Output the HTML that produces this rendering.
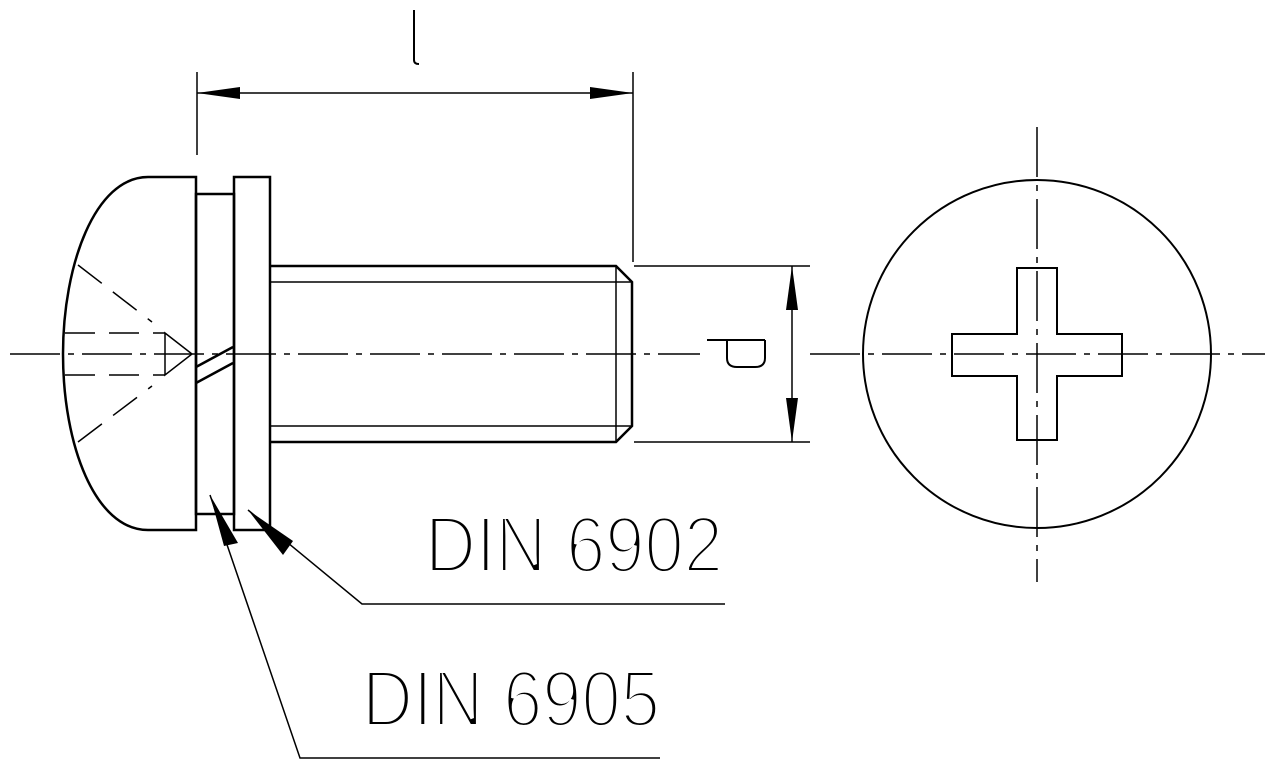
<!DOCTYPE html>
<html><head><style>html,body{margin:0;padding:0;background:#fff}svg{display:block}</style></head>
<body>
<svg width="1280" height="767" viewBox="0 0 1280 767" xmlns="http://www.w3.org/2000/svg">
<g fill="none" stroke="#000" stroke-width="2.5">
<!-- head -->
<path d="M196,177 L148,177 C95,177 63,265 63,354 C63,445 95,530 148,530 L196,530 Z"/>
<!-- lock washer -->
<rect x="196" y="194" width="38" height="320"/>
<!-- flat washer -->
<rect x="234" y="177" width="36" height="353"/>
<!-- shank -->
<path d="M270,266 L616,266 L632,282 L632,426 L616,442 L270,442"/>
<line x1="616" y1="266" x2="616" y2="442" stroke-width="1.5"/>
<line x1="270" y1="282" x2="632" y2="282" stroke-width="1.5"/>
<line x1="270" y1="426" x2="632" y2="426" stroke-width="1.5"/>
<!-- split -->
<line x1="196" y1="367" x2="233" y2="347"/>
<line x1="196" y1="383" x2="233" y2="363"/>
<!-- circle + cross -->
<circle cx="1037" cy="354" r="174" stroke-width="2"/>
<path d="M1017,268 H1057 V334 H1122 V376 H1057 V440 H1017 V376 H952 V334 H1017 Z" stroke-width="2"/>
</g>
<g fill="none" stroke="#000" stroke-width="1.5">
<!-- hidden lines in head -->
<line x1="78" y1="265" x2="152" y2="322" stroke-dasharray="30,14"/>
<line x1="78" y1="442" x2="152" y2="386" stroke-dasharray="30,14"/>
<line x1="65" y1="333" x2="165" y2="333" stroke-dasharray="30,14"/>
<line x1="65" y1="375" x2="165" y2="375" stroke-dasharray="30,14"/>
<path d="M165,333 L192,354 L165,375 Z"/>
<!-- center lines -->
<line x1="10" y1="354" x2="700" y2="354" stroke-dasharray="50,8,6,8"/>
<line x1="810" y1="354" x2="1265" y2="354" stroke-dasharray="50,8,6,8"/>
<line x1="1037" y1="127" x2="1037" y2="582" stroke-dasharray="50,8,6,8"/>
<!-- dimension l -->
<line x1="197" y1="72" x2="197" y2="155"/>
<line x1="633" y1="72" x2="633" y2="262"/>
<line x1="197" y1="93" x2="633" y2="93"/>
<!-- dimension d -->
<line x1="634" y1="266" x2="810" y2="266"/>
<line x1="634" y1="442" x2="810" y2="442"/>
<line x1="792" y1="266" x2="792" y2="442"/>
<!-- leaders -->
<polyline points="248,510 362,604 725,604"/>
<polyline points="210,495 300,758 660,758"/>
</g>
<g fill="#000">
<polygon points="197,93 240,87 240,99"/>
<polygon points="633,93 590,87 590,99"/>
<polygon points="792,266 786,310 798,310"/>
<polygon points="792,442 786,398 798,398"/>
<polygon points="248,510 293,541 283,555"/>
<polygon points="210,495 224,546 238,543"/>
</g>
<!-- l -->
<path d="M414,10 L414,60 Q414,64 419,64" fill="none" stroke="#000" stroke-width="2"/>
<!-- d rotated -->
<path d="M707,340 L765,340 M727,340 L727,358 Q727,367 737,367 L755,367 Q765,367 765,358 L765,340" fill="none" stroke="#000" stroke-width="2"/>
<g font-family="'Liberation Sans Narrow','Liberation Sans',sans-serif" font-size="80" fill="#000" stroke="#fff" stroke-width="4">
<text x="425" y="572" textLength="298" lengthAdjust="spacingAndGlyphs">DIN 6902</text>
<text x="362" y="726" textLength="298" lengthAdjust="spacingAndGlyphs">DIN 6905</text>
</g>
</svg>
</body></html>
